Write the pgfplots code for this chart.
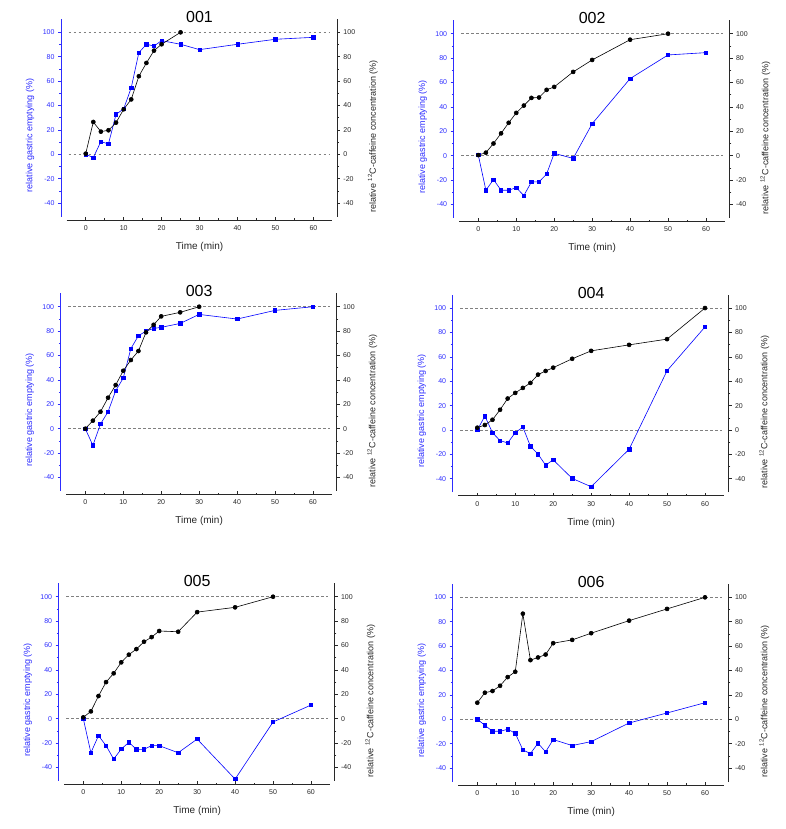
\documentclass[border=0pt]{standalone}
\usepackage{fontspec}
\setmainfont{Liberation Sans}
\usepackage{pgfplots}
\pgfplotsset{compat=1.18}
\definecolor{axblue}{RGB}{45,45,255}
\definecolor{dgray}{RGB}{40,40,40}
\pgfplotsset{
  common/.style={scale only axis, clip=false,
    /pgf/number format/assume math mode=true,
    tick label style={font=\fontsize{7}{8}\selectfont},
    label style={font=\fontsize{9}{10}\selectfont},
  },
  panelB/.style={common, anchor=south west,
    width=275.9pt, height=197.6pt,
    xmin=-6.5, xmax=66.2, ymin=-51, ymax=111,
    axis x line=none, axis y line*=left,
    ytick={-40,-20,0,20,40,60,80,100}, minor y tick num=1,
    tick align=outside, major tick length=3pt, minor tick length=1.8pt,
    y axis line style={axblue, line width=0.7pt, -},
    every y tick/.style={axblue, line width=0.6pt},
    every minor y tick/.style={axblue, line width=0.5pt},
    yticklabel style={axblue},
    ylabel={relative gastric emptying (\%)},
    ylabel style={axblue, at={(axis description cs:-0.112,0.41)}, anchor=center, rotate=0},
  },
  panelD/.style={common, anchor=south west,
    width=275.9pt, height=197.6pt,
    xmin=-6.5, xmax=66.2, ymin=-51, ymax=111,
    axis x line=none, axis y line*=right,
    ytick={-40,-20,0,20,40,60,80,100}, minor y tick num=1,
    tick align=outside, major tick length=3pt, minor tick length=1.8pt,
    y axis line style={dgray, line width=0.7pt, -},
    every y tick/.style={dgray, line width=0.6pt},
    every minor y tick/.style={dgray, line width=0.5pt},
    yticklabel style={dgray},
    ylabel={relative \textsuperscript{12}C-caffeine concentration (\%)},
    ylabel style={dgray, at={(axis description cs:1.130,0.405)}, anchor=center, rotate=0},
  },
  panelC/.style={common, anchor=south west,
    width=265.65pt, height=10pt,
    xmin=-5, xmax=65, ymin=0, ymax=1,
    axis x line*=bottom, axis y line=none, ytick=\empty,
    xtick={0,10,20,30,40,50,60}, minor x tick num=1,
    tick align=inside, major tick length=3pt, minor tick length=1.8pt,
    x axis line style={dgray, line width=0.7pt, -},
    every x tick/.style={dgray, line width=0.6pt},
    every minor x tick/.style={dgray, line width=0.5pt},
    xticklabel style={dgray, yshift=-2pt},
    xlabel={Time (min)},
    xlabel style={dgray, font=\fontsize{10}{11}\selectfont, at={(axis description cs:0.5,0)}, anchor=center, yshift=-27pt},
  },
  bl/.style={blue, line width=0.6pt, mark=square*, mark size=1.7pt, mark options={solid, fill=blue}},
  bk/.style={black, line width=0.6pt, mark=*, mark size=2pt, mark options={solid, fill=black}},
  refl/.style={gray, line width=0.5pt, dash pattern=on 2.5pt off 2.5pt},
}
\newcommand{\panel}[5]{%
  \begin{axis}[panelB, at={({#1pt-24.67pt},{829pt-#2pt-62.22pt})}]
    \addplot[refl] coordinates {(-4.5,0)(64.5,0)};
    \addplot[refl] coordinates {(-4.5,100)(64.5,100)};
    \addplot[bl] coordinates {#4};
    \addplot[bk] coordinates {#5};
    \node[font=\fontsize{16}{17}\selectfont, black] at (axis cs:30,112.5) {#3};
  \end{axis}
  \begin{axis}[panelD, at={({#1pt-24.67pt},{829pt-#2pt-62.22pt})}]
  \end{axis}
  \begin{axis}[panelC, at={({#1pt-18.975pt},{829pt-#2pt-65.7pt})}]
  \end{axis}
}
\begin{document}
\begin{tikzpicture}
\useasboundingbox[fill=white] (0,0) rectangle (785pt,829pt);
% 001
\panel{85.7}{154.3}{001}
{(0,0)(2,-2.7)(4,10.4)(6,8.5)(8,32.8)(10,37.2)(12,54.6)(14,83.3)(16,90.2)(18,88.8)(20,93.2)(25,90.2)(30,85.8)(40,90.2)(50,94.3)(60,95.9)}
{(0,0.5)(2,26.5)(4,18.6)(6,19.7)(8,26)(10,36.9)(12,45)(14,64)(16,74.9)(18,85)(20,90.2)(25,100)}
% 002
\panel{478.3}{155.7}{002}
{(0,0.5)(2,-28.3)(4,-19.6)(6,-28.3)(8,-28.3)(10,-26.2)(12,-32.7)(14,-21.5)(16,-21.5)(18,-15)(20,1.9)(25,-2.2)(30,26.2)(40,63.2)(50,82.6)(60,84.5)}
{(0,0.5)(2,2.5)(4,10)(6,18.3)(8,27)(10,35.1)(12,41.1)(14,47.4)(16,47.7)(18,54)(20,56.4)(25,68.7)(30,78.5)(40,95.1)(50,100)}
% 003
\panel{85.3}{428.7}{003}
{(0,0)(2,-13.7)(4,3.8)(6,13.9)(8,31.1)(10,41.5)(12,65.6)(14,76.2)(16,80)(18,82.2)(20,83.1)(25,86.3)(30,93.7)(40,89.9)(50,97)(60,100)}
{(0,0)(2,6.6)(4,13.9)(6,25.4)(8,35.8)(10,47.5)(12,56.3)(14,63.7)(16,79)(18,85.2)(20,92.1)(25,95.4)(30,100)}
% 004
\panel{477.3}{430}{004}
{(0,0)(2,11.4)(4,-2.2)(6,-8.7)(8,-10.6)(10,-2.2)(12,2.4)(14,-13.3)(16,-19.8)(18,-28.8)(20,-24.5)(25,-39.7)(30,-46.5)(40,-15.8)(50,48.6)(60,84.5)}
{(0,1.9)(2,4.1)(4,8.4)(6,16.6)(8,25.8)(10,30.4)(12,34.5)(14,38.6)(16,45.4)(18,48.4)(20,51.1)(25,58.4)(30,64.9)(40,69.8)(50,74.5)(60,100)}
% 005
\panel{83.3}{718.7}{005}
{(0,0)(2,-27.9)(4,-13.9)(6,-22.1)(8,-33.1)(10,-24.9)(12,-19.4)(14,-25.1)(16,-25.1)(18,-22.1)(20,-22.1)(25,-27.9)(30,-16.7)(40,-49.5)(50,-2.7)(60,11.2)}
{(0,1.1)(2,6)(4,18.6)(6,30)(8,37.2)(10,46.2)(12,52.5)(14,57.1)(16,63.1)(18,66.9)(20,71.9)(25,71.3)(30,87.4)(40,91.3)(50,100)}
% 006
\panel{477.3}{719.3}{006}
{(0,0)(2,-4.9)(4,-9.8)(6,-9.8)(8,-8.2)(10,-11.4)(12,-25.1)(14,-28.1)(16,-19.6)(18,-26.7)(20,-16.6)(25,-21.5)(30,-18.3)(40,-3)(50,5.2)(60,13.6)}
{(0,13.6)(2,21.8)(4,23.2)(6,27.5)(8,34.6)(10,39)(12,86.6)(14,48.5)(16,50.7)(18,53.1)(20,62.4)(25,65.1)(30,70.6)(40,80.9)(50,90.5)(60,100)}
\end{tikzpicture}
\end{document}
